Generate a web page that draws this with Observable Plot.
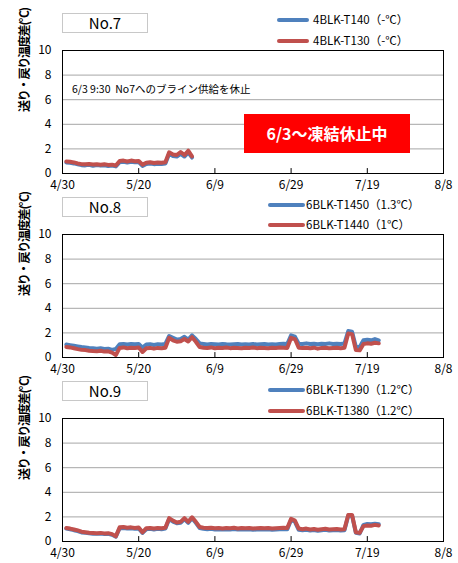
<!DOCTYPE html>
<html><head><meta charset="utf-8">
<script src="https://cdn.jsdelivr.net/npm/d3@7"></script>
<script src="https://cdn.jsdelivr.net/npm/@observablehq/plot@0.6"></script>
<style>
body{margin:0;background:#fff;font-family:"Noto Sans CJK JP","Noto Sans",sans-serif;}
#root{position:relative;width:458px;height:563px;overflow:hidden;background:#fff;}
.panel{position:absolute;left:0;width:458px;height:190px;}
.panel svg{position:absolute;left:0;top:0;}
.panel svg g[aria-label="text"] text{letter-spacing:-1.2px;}
.title{position:absolute;left:62px;top:13px;width:84px;height:18px;border:1px solid #c8c8c8;text-align:center;font-size:15px;line-height:18px;color:#000;background:#fff;}
.leg{position:absolute;font-size:11.5px;line-height:12px;color:#000;white-space:nowrap;}
.sw{position:absolute;height:4px;border-radius:2px;}
.note{position:absolute;left:72px;top:81px;font-size:10.5px;color:#000;white-space:pre;}
.stop{position:absolute;left:244px;top:114px;width:166px;height:39px;background:#ff0000;color:#fff;font-weight:bold;font-size:16px;line-height:39px;text-align:center;}
</style>
</head><body><div id="root"></div>
<script>
// ---- data ----
const dates = [
 "5/1","5/2","5/3","5/4","5/5","5/6","5/7","5/8","5/9","5/10","5/11","5/12","5/13","5/14","5/15","5/16","5/17","5/18","5/19","5/20","5/21","5/22","5/23","5/24","5/25","5/26","5/27","5/28","5/29","5/30","5/31",
 "6/1","6/2","6/3","6/4","6/5","6/6","6/7","6/8","6/9","6/10","6/11","6/12","6/13","6/14","6/15","6/16","6/17","6/18","6/19","6/20","6/21","6/22","6/23","6/24","6/25","6/26","6/27","6/28","6/29","6/30",
 "7/1","7/2","7/3","7/4","7/5","7/6","7/7","7/8","7/9","7/10","7/11","7/12","7/13","7/14","7/15","7/16","7/17","7/18","7/19","7/20","7/21","7/22"
];
const xTickLabels = ["4/30","5/20","6/9","6/29","7/19","8/8"];
const yTicks = [0,2,4,6,8,10];
const yLabel = "送り・戻り温度差(℃)";

// No.7 (5/1 - 6/3)
const no7T140 = [0.9,0.88,0.82,0.75,0.68,0.66,0.7,0.62,0.68,0.64,0.66,0.6,0.65,0.58,0.92,0.95,0.9,0.96,0.92,0.93,0.62,0.78,0.82,0.76,0.8,0.78,0.82,1.6,1.42,1.38,1.6,1.38,1.7,1.3];
const no7T130 = [0.98,0.95,0.9,0.82,0.76,0.75,0.78,0.74,0.76,0.72,0.75,0.7,0.72,0.65,1.02,1.05,0.98,1.05,1.0,1.02,0.72,0.88,0.92,0.85,0.9,0.88,0.92,1.72,1.55,1.5,1.75,1.5,1.85,1.4];

// No.8
const no8T1450 = [1.05,1.0,0.95,0.9,0.85,0.82,0.78,0.75,0.72,0.75,0.7,0.72,0.62,0.7,
 1.08,1.1,1.05,1.1,1.08,1.1,0.8,1.05,1.08,1.02,1.08,1.05,1.1,
 1.75,1.6,1.45,1.5,1.68,1.45,1.8,1.5,1.15,1.1,
 1.05,1.1,1.08,1.05,1.1,1.07,1.05,1.08,1.1,1.05,1.08,1.06,1.1,1.05,1.08,1.1,1.06,1.08,1.05,1.1,1.12,1.1,
 1.8,1.7,1.12,
 1.1,1.15,1.1,1.12,1.08,1.12,1.1,1.15,1.1,1.12,1.1,1.14,
 2.15,2.1,0.88,0.85,1.4,1.45,1.4,1.5,1.4];
const no8T1440 = [0.86,0.82,0.75,0.68,0.62,0.6,0.55,0.52,0.5,0.55,0.48,0.5,0.4,0.2,
 0.78,0.82,0.75,0.8,0.78,0.82,0.45,0.75,0.78,0.72,0.78,0.75,0.8,
 1.6,1.4,1.28,1.32,1.5,1.3,1.65,1.28,0.85,0.8,
 0.78,0.82,0.75,0.8,0.78,0.82,0.76,0.8,0.78,0.75,0.8,0.78,0.82,0.76,0.8,0.78,0.75,0.8,0.78,0.82,0.8,0.78,
 1.6,1.5,0.8,
 0.78,0.8,0.75,0.8,0.72,0.78,0.8,0.76,0.78,0.8,0.75,0.8,
 1.95,1.9,0.6,0.58,1.1,1.15,1.12,1.2,1.15];

// No.9
const no9T1390 = [1.05,1.0,0.92,0.85,0.74,0.7,0.66,0.63,0.62,0.64,0.6,0.62,0.55,0.4,
 1.08,1.1,1.05,1.08,1.03,1.06,0.7,1.0,1.03,0.98,1.03,1.0,1.05,
 1.82,1.62,1.48,1.52,1.82,1.52,1.9,1.52,1.1,1.03,
 1.0,1.03,0.98,1.0,0.97,1.0,0.98,1.02,0.97,1.0,0.98,1.0,0.96,0.98,1.0,0.97,1.0,0.96,0.98,1.0,1.02,1.0,
 1.75,1.6,0.95,
 0.92,0.95,0.9,0.93,0.88,0.92,0.95,0.9,0.92,0.94,0.9,0.92,
 2.1,2.1,0.7,0.65,1.35,1.42,1.4,1.45,1.4];
const no9T1380 = [1.1,1.05,0.98,0.9,0.8,0.76,0.72,0.7,0.68,0.7,0.66,0.68,0.6,0.42,
 1.15,1.18,1.12,1.15,1.1,1.13,0.75,1.08,1.1,1.05,1.1,1.08,1.12,
 1.9,1.7,1.55,1.6,1.9,1.6,1.97,1.6,1.18,1.12,
 1.1,1.12,1.08,1.1,1.05,1.1,1.08,1.12,1.06,1.1,1.08,1.1,1.05,1.08,1.1,1.07,1.1,1.05,1.08,1.1,1.12,1.1,
 1.85,1.7,1.05,
 1.0,1.05,0.98,1.02,0.95,1.0,1.03,0.98,1.0,1.02,0.98,1.0,
 2.15,2.15,0.75,0.7,1.25,1.3,1.28,1.35,1.3];

const BLUE = "#4f81bd", RED = "#c0504d";

// ---- helpers ----
function parseMD(s){ const [m,d]=s.split("/").map(Number); return new Date(Date.UTC(2021,m-1,d)); }
const xTickDates = xTickLabels.map(parseMD);

function makePlot(blueVals, redVals){
  const blueRows = blueVals.map((v,i)=>({date:parseMD(dates[i]), value:v}));
  const redRows = redVals.map((v,i)=>({date:parseMD(dates[i]), value:v}));
  return Plot.plot({
    width:458, height:190,
    marginLeft:62, marginRight:15, marginTop:50, marginBottom:17,
    style:{fontFamily:'"Noto Sans CJK JP","Noto Sans",sans-serif', fontSize:"12px", color:"#000", background:"transparent", overflow:"visible"},
    x:{type:"utc", domain:[xTickDates[0], xTickDates[xTickDates.length-1]], label:null},
    y:{domain:[0,10], label:null},
    marks:[
      Plot.ruleY(yTicks.filter(v=>v>0 && v<10), {stroke:"#a6a6a6", strokeWidth:1}),
      Plot.line(blueRows, {x:"date", y:"value", stroke:BLUE, strokeWidth:4, strokeLinejoin:"round", strokeLinecap:"round"}),
      Plot.line(redRows, {x:"date", y:"value", stroke:RED, strokeWidth:4, strokeLinejoin:"round", strokeLinecap:"round"}),
      Plot.ruleX(xTickDates.slice(1,-1), {y1:0, y2:0.4, stroke:"#000", strokeWidth:1}),
      Plot.frame({stroke:"#000", strokeWidth:1}),
      Plot.axisX({ticks:xTickDates, tickSize:0, tickPadding:7, tickFormat:d=>xTickLabels[xTickDates.findIndex(t=>+t===+d)], fontSize:12}),
      Plot.axisY({ticks:yTicks, tickSize:0, tickPadding:11, fontSize:12}),
      Plot.text([yLabel], {text:d=>d, frameAnchor:"left", rotate:-90, dx:-37, fontWeight:"bold", fontSize:12})
    ]
  });
}

const panels = [
  {top:0, title:"No.7", blue:no7T140, red:no7T130, names:["4BLK-T140（-℃）","4BLK-T130（-℃）"], swX:277, swW:32, txX:313, legY:[20,41]},
  {top:184, title:"No.8", blue:no8T1450, red:no8T1440, names:["6BLK-T1450（1.3℃）","6BLK-T1440（1℃）"], swX:268, swW:37, txX:306, legY:[21,41]},
  {top:368, title:"No.9", blue:no9T1390, red:no9T1380, names:["6BLK-T1390（1.2℃）","6BLK-T1380（1.2℃）"], swX:268, swW:37, txX:306, legY:[22,43]}
];

const root = document.getElementById("root");
panels.forEach((p, idx) => {
  const div = document.createElement("div");
  div.className = "panel";
  div.style.top = p.top + "px";
  div.appendChild(makePlot(p.blue, p.red));
  const t = document.createElement("div");
  t.className = "title"; t.textContent = p.title;
  div.appendChild(t);
  [BLUE, RED].forEach((c, k) => {
    const sw = document.createElement("div");
    sw.className = "sw";
    sw.style.left = p.swX + "px"; sw.style.width = p.swW + "px";
    sw.style.top = (p.legY[k] - 2) + "px"; sw.style.background = c;
    div.appendChild(sw);
    const lt = document.createElement("div");
    lt.className = "leg"; lt.textContent = p.names[k];
    lt.style.left = p.txX + "px"; lt.style.top = (p.legY[k] - 7) + "px";
    div.appendChild(lt);
  });
  if (idx === 0) {
    const n = document.createElement("div");
    n.className = "note"; n.textContent = "6/3 9:30  No7へのブライン供給を休止";
    div.appendChild(n);
    const s = document.createElement("div");
    s.className = "stop"; s.textContent = "6/3～凍結休止中";
    div.appendChild(s);
  }
  root.appendChild(div);
});
</script>
</body></html>
